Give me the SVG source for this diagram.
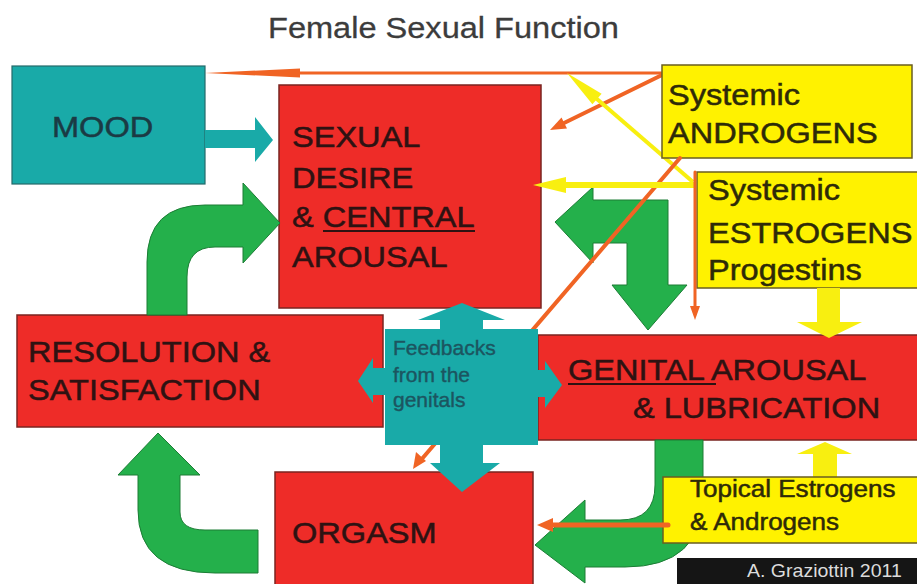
<svg xmlns="http://www.w3.org/2000/svg" width="917" height="584" viewBox="0 0 917 584">
<style>
.t{font-family:"Liberation Sans",Arial,sans-serif;}
.red{fill:#ee2c28;stroke:#7a2420;stroke-width:1.5;}
.teal{fill:#19aaa8;stroke:#236a6a;stroke-width:1.2;}
.tealf{fill:#19aaa8;}
.yel{fill:#fff200;stroke:#6a5e20;stroke-width:1.5;}
.grn{fill:#24b04b;stroke:#1c7d35;stroke-width:1;}
.ora{stroke:#f06424;fill:none;stroke-linecap:round;}
.oraf{fill:#f06424;}
.yl{stroke:#f8ef10;fill:none;}
.ylf{fill:#f8ef10;}
.big{font-size:30px;}
.rt{fill:#2e1212;stroke:#2e1212;stroke-width:0.5;}
.yt{fill:#2e2a08;stroke:#2e2a08;stroke-width:0.5;}
</style>
<rect width="917" height="584" fill="#ffffff"/>
<text class="t" font-size="30" fill="#3c3c3c" stroke="#3c3c3c" stroke-width="0.3" transform="translate(268,38) scale(1.085 1)">Female Sexual Function</text>

<g id="connectors-back">
  <line class="ora" x1="662" y1="73" x2="290" y2="73" stroke-width="3"/>
  <polygon class="oraf" points="205,73 300,68.5 300,77.5"/>
  <line class="ora" x1="662" y1="75" x2="562" y2="124" stroke-width="4"/>
  <polygon class="oraf" points="550,130 567,128.5 561.5,117.5"/>
  <line class="yl" x1="693" y1="182" x2="590" y2="93" stroke-width="4"/>
  <polygon class="ylf" points="567,73 592.4,104.3 601.6,93.7"/>
</g>

<g id="mood">
  <rect class="teal" x="12" y="66" width="193" height="118"/>
  <text class="t big" fill="#1b3a44" stroke="#1b3a44" stroke-width="0.5" transform="translate(52,137) scale(1.085 1)">MOOD</text>
</g>

<g id="sexual-desire">
  <rect class="red" x="279" y="85" width="262" height="223"/>
  <text class="t big rt" transform="translate(292,147) scale(1.085 1)"><tspan x="0" y="0">SEXUAL</tspan><tspan x="0" y="41">DESIRE</tspan><tspan x="0" y="80">&amp; CENTRAL</tspan><tspan x="0" y="120">AROUSAL</tspan></text>
  <line x1="323" y1="231" x2="475" y2="231" stroke="#2e1212" stroke-width="2"/>
</g>

<g id="resolution">
  <rect class="red" x="17" y="315" width="366" height="112"/>
  <text class="t big rt" transform="translate(28,362) scale(1.085 1)"><tspan x="0" y="0">RESOLUTION &amp;</tspan><tspan x="0" y="38">SATISFACTION</tspan></text>
</g>

<g id="genital-arousal">
  <rect class="red" x="538" y="335" width="390" height="105"/>
  <text class="t big rt" transform="translate(568,380) scale(1.085 1)">GENITAL AROUSAL</text>
  <text class="t big rt" transform="translate(633,418) scale(1.085 1)">&amp; LUBRICATION</text>
  <line x1="568" y1="384" x2="716" y2="384" stroke="#2e1212" stroke-width="2"/>
</g>

<g id="orgasm">
  <rect class="red" x="275" y="472" width="258" height="120"/>
  <text class="t big rt" transform="translate(292,543) scale(1.085 1)">ORGASM</text>
</g>

<g id="androgens">
  <rect class="yel" x="662" y="65" width="250" height="93"/>
  <text class="t big yt" transform="translate(668,105) scale(1.085 1)"><tspan x="0" y="0">Systemic</tspan><tspan x="0" y="38">ANDROGENS</tspan></text>
</g>

<g id="estrogens">
  <rect class="yel" x="697" y="172" width="230" height="116"/>
  <text class="t big yt" transform="translate(708,200) scale(1.085 1)"><tspan x="0" y="0">Systemic</tspan><tspan x="0" y="43">ESTROGENS</tspan><tspan x="0" y="80">Progestins</tspan></text>
</g>

<g id="connectors">
  <polygon class="tealf" points="205,130 255,130 255,117 273,140 255,162 255,148 205,148"/>
  <path class="grn" d="M147,315 L147,262 Q147,205 205,205 L243,205 L243,183 L280,223 L243,263 L243,247 L215,247 Q187,247 187,277 L187,315 Z"/>
  <path class="grn" d="M555,222 L593,187 L593,200 L668,200 L668,285 L687,285 L648,330 L612,285 L627,285 L627,243 L593,243 L593,263 Z"/>
  <path class="grn" d="M655,440 L703,440 L703,495 Q703,567 625,567 L585,567 L585,583 L535,545 L585,500 L585,520 L620,520 Q655,520 655,485 Z"/>
  <path class="grn" d="M258,573 L215,573 Q138,573 138,510 L138,475 L118,475 L158,433 L200,475 L180,475 L180,512 Q180,530 205,530 L258,530 Z"/>
  <line class="ora" x1="680" y1="158" x2="421" y2="460" stroke-width="4"/>
  <polygon class="oraf" points="413,469 416,452 426,461"/>
  <line class="yl" x1="695" y1="185" x2="562" y2="185" stroke-width="6"/>
  <polygon class="ylf" points="533,185 566,177 566,193"/>
  <line class="ora" x1="695" y1="172" x2="695" y2="308" stroke-width="3"/>
  <polygon class="oraf" points="695,320 690,306 700,306"/>
  <polygon class="ylf" points="817,288 840,288 840,322 862,322 829,338 797,322 817,322"/>
  <polygon class="ylf" points="813,477 837,477 837,454 852,454 825,442 797,454 813,454"/>
</g>

<g id="topical">
  <rect class="yel" x="663" y="477" width="262" height="66"/>
  <text class="t yt" font-size="24" transform="translate(690,497) scale(1.085 1)"><tspan x="0" y="0">Topical Estrogens</tspan><tspan x="0" y="33">&amp; Androgens</tspan></text>
</g>

<g id="connectors-front">
  <line class="ora" x1="668" y1="525" x2="550" y2="525" stroke-width="5"/>
  <polygon class="oraf" points="537,525 553,518 553,532"/>
</g>

<g id="feedbacks">
  <polygon class="tealf" points="462,303 505,320 483,320 483,329 538,329 538,370 545,370 545,361 562,385 545,408 545,397 538,397 538,445 483,445 483,463 500,463 462,492 430,463 440,463 440,445 385,445 385,395 373,395 373,403 358,381 373,358 373,368 385,368 385,329 440,329 440,320 418,320"/>
  <text class="t" font-size="21" fill="#1c5560" stroke="#1c5560" stroke-width="0.4"><tspan x="393" y="355">Feedbacks</tspan><tspan x="393" y="382">from the</tspan><tspan x="393" y="407">genitals</tspan></text>
</g>

<g id="credit">
  <rect x="677" y="558" width="240" height="26" fill="#151515"/>
  <text class="t" font-size="18" fill="#dcdcdc" transform="translate(747,577) scale(1.085 1)">A. Graziottin 2011</text>
</g>
</svg>
